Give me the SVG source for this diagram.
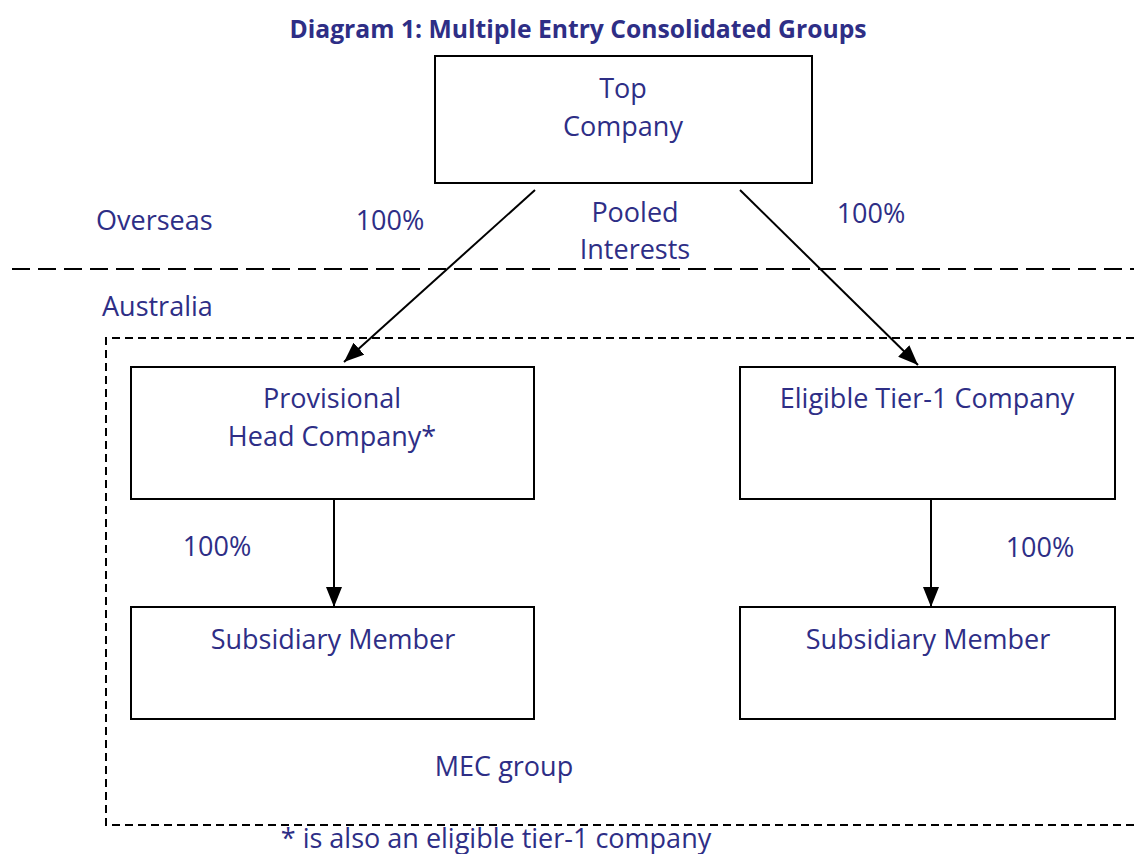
<svg xmlns="http://www.w3.org/2000/svg" width="1134" height="854" viewBox="0 0 1134 854">
<style>
.t{font-family:"Open Sans","Liberation Sans",sans-serif;font-size:27px;fill:#2e2e86}
.box{fill:#fff;stroke:#000;stroke-width:2}
.c{stroke:#000;stroke-width:2;fill:none}
</style>
<defs>
<marker id="a" viewBox="0 0 20 16" refX="20" refY="8" markerWidth="20" markerHeight="16" orient="auto" markerUnits="userSpaceOnUse">
<path d="M0,0 L20,8 L0,16 z" fill="#000"/>
</marker>
</defs>
<rect width="1134" height="854" fill="#fff"/>
<text x="578" y="38" text-anchor="middle" style="font-family:'Open Sans','Liberation Sans',sans-serif;font-weight:bold;font-size:24.7px;fill:#2e2e86">Diagram 1: Multiple Entry Consolidated Groups</text>
<g id="regions">
<line x1="12" y1="269" x2="1134" y2="269" stroke="#000" stroke-width="2" stroke-dasharray="18 8"/>
<path d="M1134,338 H106 V825 H1134" fill="none" stroke="#000" stroke-width="2" stroke-dasharray="8 5"/>
<text class="t" x="96" y="230">Overseas</text>
<text class="t" x="102" y="316">Australia</text>
<text class="t" x="504" y="776" text-anchor="middle">MEC group</text>
</g>
<g id="connectors">
<line class="c" x1="535" y1="190" x2="344" y2="362" marker-end="url(#a)"/>
<line class="c" x1="740" y1="190" x2="918" y2="365" marker-end="url(#a)"/>
<line class="c" x1="334" y1="499" x2="334" y2="607" marker-end="url(#a)"/>
<line class="c" x1="931" y1="499" x2="931" y2="607" marker-end="url(#a)"/>
<text class="t" x="390" y="230" text-anchor="middle">100%</text>
<text class="t" x="871" y="223" text-anchor="middle">100%</text>
<text class="t" x="635" y="222" text-anchor="middle">Pooled</text>
<text class="t" x="635" y="259" text-anchor="middle">Interests</text>
<text class="t" x="217" y="556" text-anchor="middle">100%</text>
<text class="t" x="1040" y="557" text-anchor="middle">100%</text>
</g>
<g id="top">
<rect class="box" x="435" y="56" width="377" height="127"/>
<text class="t" x="623" y="98" text-anchor="middle">Top</text>
<text class="t" x="623" y="136" text-anchor="middle">Company</text>
</g>
<g id="phc">
<rect class="box" x="131" y="367" width="403" height="132"/>
<text class="t" x="332" y="408" text-anchor="middle">Provisional</text>
<text class="t" x="332" y="446" text-anchor="middle">Head Company*</text>
</g>
<g id="etc">
<rect class="box" x="740" y="367" width="375" height="132"/>
<text class="t" x="927" y="408" text-anchor="middle">Eligible Tier-1 Company</text>
</g>
<g id="sub1">
<rect class="box" x="131" y="607" width="403" height="112"/>
<text class="t" x="333" y="649" text-anchor="middle">Subsidiary Member</text>
</g>
<g id="sub2">
<rect class="box" x="740" y="607" width="375" height="112"/>
<text class="t" x="928" y="649" text-anchor="middle">Subsidiary Member</text>
</g>
<text class="t" x="496" y="848" text-anchor="middle">* is also an eligible tier-1 company</text>
</svg>
